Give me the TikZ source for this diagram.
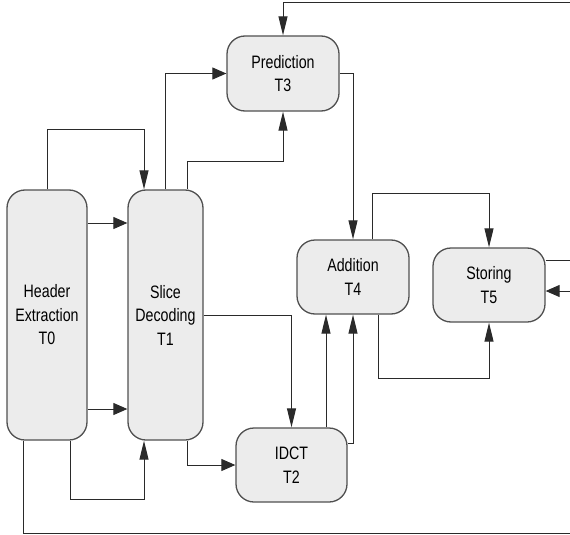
\documentclass[tikz,border=0pt]{standalone}
\usepackage{fontspec}
\setmainfont{Liberation Sans}[FakeStretch=0.79]
\usetikzlibrary{arrows.meta,calc}
\definecolor{boxfill}{HTML}{ECECEC}
\definecolor{boxline}{HTML}{505050}
\definecolor{wire}{HTML}{2A2A2A}
\tikzset{
  task/.style={draw=boxline, line width=1.3pt, fill=boxfill, rounded corners=18pt,
    inner sep=0pt, align=center, font=\fontsize{18}{23.5}\selectfont},
  wireline/.style={draw=wire, line width=1pt},
  varr/.style={wireline, -{Triangle[length=19pt,width=9pt]}},
  harr/.style={wireline, -{Triangle[length=14pt,width=12pt]}},
}
\begin{document}
\begin{tikzpicture}[x=1pt,y=-1pt]
\useasboundingbox (0,0) rectangle (570,535);
% tasks
\node[task, minimum width=80pt, minimum height=250pt] (T0) at (47,315) {Header\\Extraction\\T0};
\node[task, minimum width=75pt, minimum height=250pt] (T1) at (165.5,315) {Slice\\Decoding\\T1};
\node[task, minimum width=112pt, minimum height=75pt] (T3) at (283,73.5) {Prediction\\T3};
\node[task, minimum width=112pt, minimum height=74pt] (T4) at (353,277) {Addition\\T4};
\node[task, minimum width=112pt, minimum height=74pt] (T5) at (489,285) {Storing\\T5};
\node[task, minimum width=111pt, minimum height=74pt] (T2) at (291.5,465) {IDCT\\T2};
% free ends at the right edge
\coordinate (topR) at (572,3);
\coordinate (outR) at (572,260);
\coordinate (inR) at (572,291);
\coordinate (botR) at (572,533);
% connectors
\draw[varr] (T0.north) -- ++(0,-60) -| ($(T1.north)+(-21.5,0)$);
\draw[harr] (T0.east |- 0,223) -- (T1.west |- 0,223);
\draw[harr] (T0.east |- 0,409) -- (T1.west |- 0,409);
\draw[varr] ($(T0.south)+(23,0)$) -- ++(0,59) -| ($(T1.south)+(-21.5,0)$);
\draw[wireline] ($(T0.south)+(-24,0)$) |- (botR);
\draw[harr] (T1.north) |- (T3.west);
\draw[varr] ($(T1.north)+(21.5,0)$) |- ($(T3.south)+(0,50)$) -- (T3.south);
\draw[varr] (topR) -| (T3.north);
\draw[varr] (T1.east) -| (T2.north);
\draw[harr] ($(T1.south)+(21.5,0)$) |- (T2.west);
\draw[varr] ($(T2.north)+(34.5,0)$) -- ($(T4.south)+(-27,0)$);
\draw[varr] (T2.east |- 0,443) -| (T4.south);
\draw[varr] (T3.east) -| (T4.north);
\draw[varr] ($(T4.north)+(19,0)$) |- ($(T5.north)+(0,-54)$) -- (T5.north);
\draw[varr] ($(T4.south)+(25,0)$) |- ($(T5.south)+(0,56)$) -- (T5.south);
\draw[wireline] (T5.east |- 0,260) -- (outR);
\draw[harr] (inR) -- (T5.east |- 0,291);
\end{tikzpicture}
\end{document}
